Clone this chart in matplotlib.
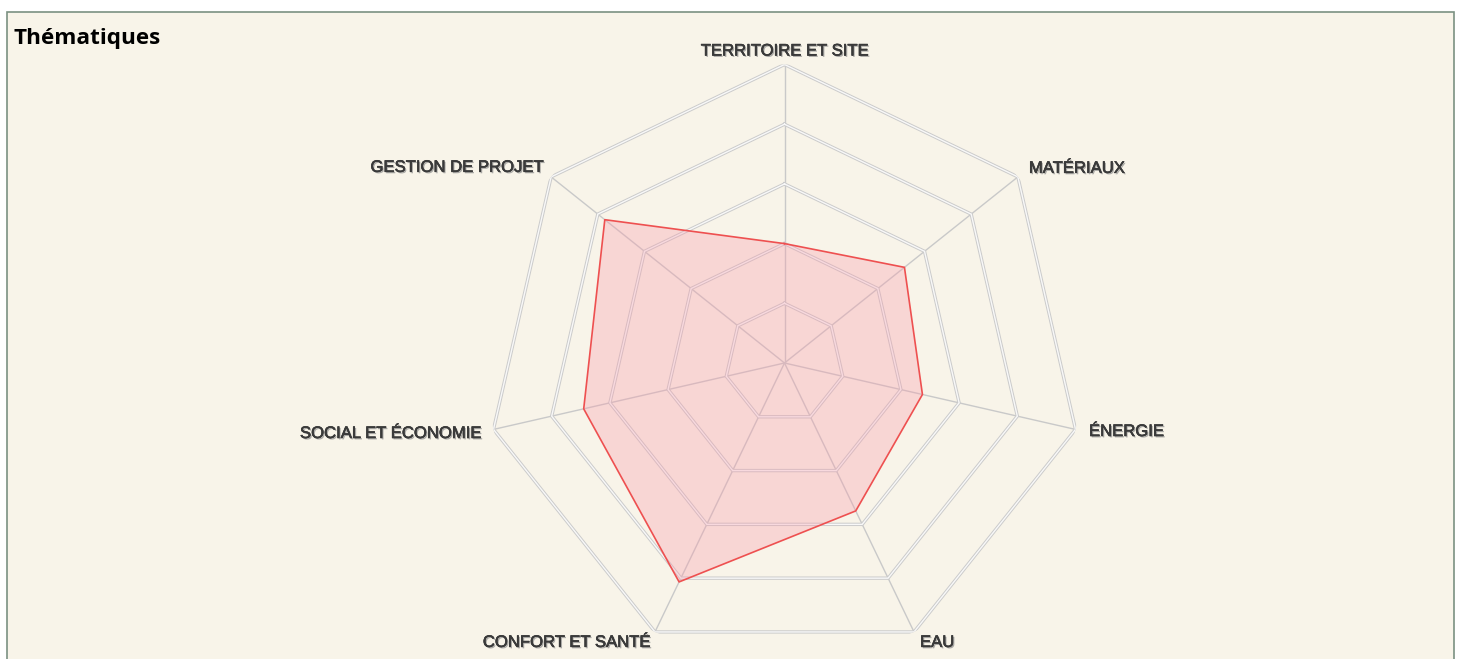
import numpy as np
import matplotlib
matplotlib.use("Agg")
import matplotlib.pyplot as plt
import matplotlib.patheffects as pe
from matplotlib.patches import Rectangle

# données (échelle 0-5)
themes = ["TERRITOIRE ET SITE", "MATÉRIAUX", "ÉNERGIE", "EAU",
          "CONFORT ET SANTÉ", "SOCIAL ET ÉCONOMIE", "GESTION DE PROJET"]
scores = [2.0, 2.57, 2.37, 2.75, 4.07, 3.45, 3.85]
rings = [1, 2, 3, 4, 5]
title = "Thématiques"

W, H = 1460, 659
fig = plt.figure(figsize=(W / 100, H / 100), dpi=100)
fig.patch.set_facecolor("white")

# panneau beige avec bordure
panel = Rectangle((6.5 / W, -0.02), (1454 - 6.5) / W, (H - 11.5) / H + 0.02,
                  transform=fig.transFigure, facecolor="#F8F4E9",
                  edgecolor="#7B9182", linewidth=1.2, zorder=-10)
fig.patches.append(panel)

fig.text(14 / W, 1 - 44 / H, title, fontsize=16.2, fontweight="bold",
         family="Open Sans", color="black", va="baseline", ha="left")

# axes polaires centrés sur (784.5, 363) px, rayon 298.5 px
cx, cy, R = 784.5, 363, 298.5
ax = fig.add_axes([(cx - R) / W, (H - cy - R) / H, 2 * R / W, 2 * R / H],
                  projection="polar")
ax.set_zorder(5)
ax.set_theta_zero_location("N")
ax.set_theta_direction(-1)
ax.set_ylim(0, rings[-1])
ax.patch.set_visible(False)
ax.spines["polar"].set_visible(False)
ax.grid(False)
ax.set_xticks([])
ax.set_yticks([])

angles = np.linspace(0, 2 * np.pi, len(themes), endpoint=False)
closed = np.append(angles, angles[0])

# grille : rayons + anneaux doubles
for a in angles:
    ax.plot([a, a], [0, rings[-1]], color="#C9C9C9", lw=1.0, zorder=1)
for r in rings:
    rr = np.full(len(closed), r)
    ax.plot(closed, rr, color="#CBCBCB", lw=2.4, zorder=1, solid_joinstyle="miter")
    ax.plot(closed, rr, color="#F8F8F8", lw=1.0, zorder=1, solid_joinstyle="miter")

vals = np.append(scores, scores[0])
ax.fill(closed, vals, color="#F89AAA", alpha=0.33, zorder=2, lw=0)
ax.plot(closed, vals, color="#EE5050", lw=1.2, zorder=3)

# étiquettes des axes
offsets = [(0, 9, "center"), (11, 4, "left"), (13.5, -6.6, "left"),
           (6, -15, "left"), (-5, -15, "right"), (-12.5, -8.6, "right"),
           (-8, 5, "right")]
shadow = [pe.withSimplePatchShadow(offset=(1, -1), shadow_rgbFace="#8A8A8A",
                                   alpha=0.7),
          pe.withStroke(linewidth=0.4, foreground="#3A3A3A")]
for a, lab, (dx, dy, ha) in zip(angles, themes, offsets):
    ax.annotate(lab, xy=(a, rings[-1]), xytext=(dx, dy),
                textcoords="offset pixels", ha=ha, va="baseline",
                fontsize=12, family="Liberation Sans", color="#3A3A3A",
                path_effects=shadow, annotation_clip=False)

fig.savefig("out.png", dpi=100, facecolor=fig.get_facecolor())
